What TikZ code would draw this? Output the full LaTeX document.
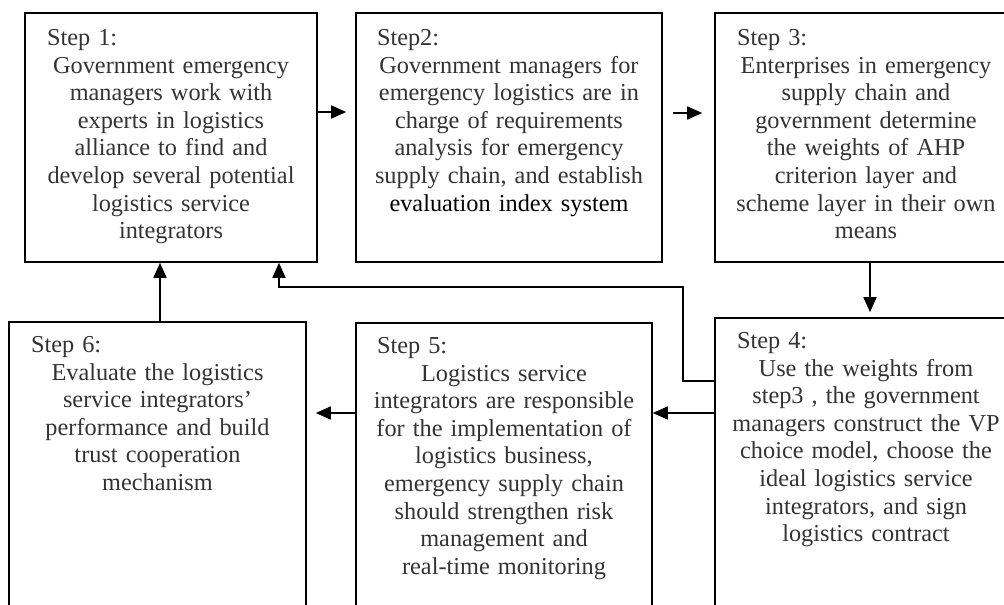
\documentclass[tikz,border=0pt]{standalone}
\usepackage{fontspec}
\setmainfont{Liberation Serif}
\usetikzlibrary{arrows.meta}
\newcommand{\steplabel}[1]{\makebox[\linewidth][l]{\hspace*{10pt}#1}}
\begin{document}
\hyphenpenalty=10000
\begin{tikzpicture}[x=1pt,y=-1pt,
  box/.style={draw, line width=1.6pt, inner sep=0pt},
  txt/.style={anchor=north, inner sep=0pt, align=center, text=black!80,
    font=\fontsize{24.3}{27.6}\selectfont},
  arr/.style={line width=1.6pt, -{Triangle[length=15pt,width=13pt]}}]
\useasboundingbox (0,0) rectangle (1004,605);
\clip (0,0) rectangle (1004,605);

% top row
\node[box, minimum width=292pt, minimum height=249pt] (b1) at (171,137.5) {};
\node[box, minimum width=306pt, minimum height=249pt] (b2) at (509,137.5) {};
\node[box, minimum width=302pt, minimum height=249pt] (b3) at (866,137.5) {};
% bottom row (runs past the lower edge)
\node[box, minimum width=302pt, minimum height=330pt] (b4) at (866,483) {};
\node[box, minimum width=296pt, minimum height=325pt] (b5) at (504,485.5) {};
\node[box, minimum width=297pt, minimum height=325pt] (b6) at (157.5,484.5) {};

% texts
\node[txt, text width=268pt] (t1) at ([yshift=-17pt]b1.north) {%
  \steplabel{Step 1:}\\
  Government emergency\\ managers work with\\ experts in logistics\\
  alliance to find and\\ develop several potential\\ logistics service\\ integrators};
\node[txt, text width=284pt] (t2) at ([yshift=-17pt]b2.north) {%
  \steplabel{Step2:}\\
  Government managers for\\ emergency logistics are in\\ charge of requirements\\
  analysis for emergency\\ supply chain, and establish\\ \textcolor{black}{evaluation index system}};
\node[txt, text width=278pt] (t3) at ([yshift=-17pt]b3.north) {%
  \steplabel{Step 3:}\\
  Enterprises in emergency\\ supply chain and\\ government determine\\
  the weights of AHP\\ criterion layer and\\ scheme layer in their own\\ means};
\node[txt, text width=278pt] (t4) at ([yshift=-15pt]b4.north) {%
  \steplabel{Step 4:}\\
  Use the weights from\\ step3 , the government\\ managers construct the VP\\
  choice model, choose the\\ ideal logistics service\\ integrators, and sign\\ logistics contract};
\node[txt, text width=274pt] (t5) at ([yshift=-15pt]b5.north) {%
  \steplabel{Step 5:}\\
  Logistics service\\ integrators are responsible\\ for the implementation of\\
  logistics business,\\ emergency supply chain\\ should strengthen risk\\
  management and\\ real-time monitoring};
\node[txt, text width=273pt] (t6) at ([yshift=-15pt]b6.north) {%
  \steplabel{Step 6:}\\
  Evaluate the logistics\\ service integrators’\\ performance and build\\
  trust cooperation\\ mechanism};

% connectors
\draw[arr, shorten >=9pt] (b1.east |- 0,112) -- (b2.west |- 0,112);
\draw[arr, shorten <=10pt, shorten >=12pt] (b2.east |- 0,113) -- (b3.west |- 0,113);
\draw[arr, shorten >=5pt] (b3.south -| 870,0) -- (b4.north -| 870,0);
\draw[arr] (b4.west |- 0,413) -- (b5.east |- 0,413);
\draw[arr, shorten >=9pt] (b5.west |- 0,413) -- (b6.east |- 0,413);
\draw[arr] (b6.north -| 160,0) -- (b1.south -| 160,0);
\draw[arr] (b4.west |- 0,381) -- (683,381) -- (683,287) -- (279,287) -- (b1.south -| 279,0);
\end{tikzpicture}
\end{document}
